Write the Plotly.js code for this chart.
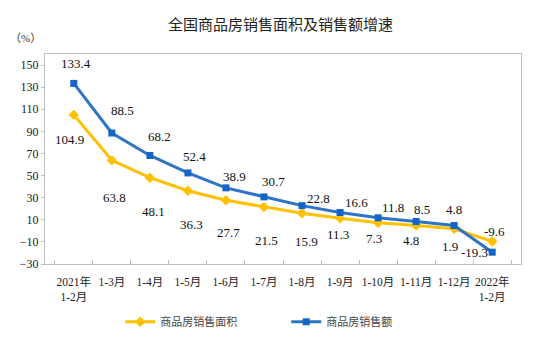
<!DOCTYPE html>
<html>
<head>
<meta charset="utf-8">
<script src="https://cdn.plot.ly/plotly-3.0.1.min.js"></script>
<style>html,body{margin:0;padding:0;background:#fff;}#chart{width:550px;height:348px;}</style>
</head>
<body>
<div id="chart"></div>
<script>
const categories = ["2021年<br>1-2月","1-3月","1-4月","1-5月","1-6月","1-7月","1-8月","1-9月","1-10月","1-11月","1-12月","2022年<br>1-2月"];
const areaGrowth = [104.9, 63.8, 48.1, 36.3, 27.7, 21.5, 15.9, 11.3, 7.3, 4.8, 1.9, -9.6];
const salesGrowth = [133.4, 88.5, 68.2, 52.4, 38.9, 30.7, 22.8, 16.6, 11.8, 8.5, 4.8, -19.3];
const yTicks = [-30, -10, 10, 30, 50, 70, 90, 110, 130, 150];

// label offsets in pixels (layout only)
const areaShift = [[-4,-25],[3,-37],[4,-34],[4,-34],[3,-32],[3,-33],[4,-28],[-2,-16],[-4,-16],[-5,-15],[-4,-18],[2,10]];
const salesShift = [[2,20],[11,23],[10,19],[7,16],[9,11],[10,15],[16,7],[16,10],[15,10],[6,12],[0,16],[-18,0]];

const serif = "'Liberation Serif', 'Times New Roman', 'Noto Sans CJK SC', serif";
const yellow = "#FFC000";

const traces = [
  {x: categories, y: areaGrowth, name: "商品房销售面积", type: "scatter", mode: "lines+markers",
   line: {color: yellow, width: 3}, marker: {symbol: "diamond", size: 8, color: yellow}},
  {x: categories, y: salesGrowth, name: "商品房销售额", type: "scatter", mode: "lines+markers",
   line: {color: "#2E74C4", width: 3}, marker: {symbol: "square", size: 7, color: "#1565C8"}}
];

const annotations = [];
areaGrowth.forEach((v, i) => annotations.push({x: categories[i], y: v, text: v.toFixed(1), showarrow: false,
  xshift: areaShift[i][0], yshift: areaShift[i][1], font: {family: serif, size: 13, color: "#111"}}));
salesGrowth.forEach((v, i) => annotations.push({x: categories[i], y: v, text: v.toFixed(1), showarrow: false,
  xshift: salesShift[i][0], yshift: salesShift[i][1], font: {family: serif, size: 13, color: "#111"}}));
annotations.push({xref: "paper", yref: "paper", x: -0.04, y: 1.075, xanchor: "center", yanchor: "middle",
  text: "（%）", showarrow: false, font: {family: serif, size: 11, color: "#333"}});

const layout = {
  width: 550, height: 348,
  margin: {l: 45, r: 29, t: 54, b: 84},
  paper_bgcolor: "#fff", plot_bgcolor: "#fff",
  title: {text: "全国商品房销售面积及销售额增速", x: 0.51, xanchor: "center", y: 0.93, yanchor: "middle",
    font: {family: "'Noto Sans CJK SC', sans-serif", size: 15, color: "#222"}},
  xaxis: {type: "category", showgrid: false, showline: true, linecolor: "#bfbfbf", linewidth: 1, mirror: true,
    ticks: "inside", ticklen: 4, tickcolor: "#bfbfbf", tickson: "boundaries", zeroline: false, tickangle: 0,
    ticklabelstandoff: 7,
    tickfont: {family: serif, size: 11.5, color: "#222"}, fixedrange: true},
  yaxis: {range: [-30, 160], tickvals: yTicks, showgrid: false, showline: true, linecolor: "#bfbfbf", linewidth: 1,
    mirror: true, ticks: "outside", ticklen: 3, tickcolor: "#bfbfbf", zeroline: false,
    tickfont: {family: serif, size: 12, color: "#222"}},
  showlegend: true,
  legend: {orientation: "h", x: 0.158, xanchor: "left", y: -0.275, yanchor: "middle",
    font: {family: "'Noto Sans CJK SC', sans-serif", size: 11, color: "#444"}, entrywidth: 121, traceorder: "normal"},
  annotations: annotations
};

Plotly.newPlot("chart", traces, layout, {staticPlot: true, displayModeBar: false});
</script>
</body>
</html>
